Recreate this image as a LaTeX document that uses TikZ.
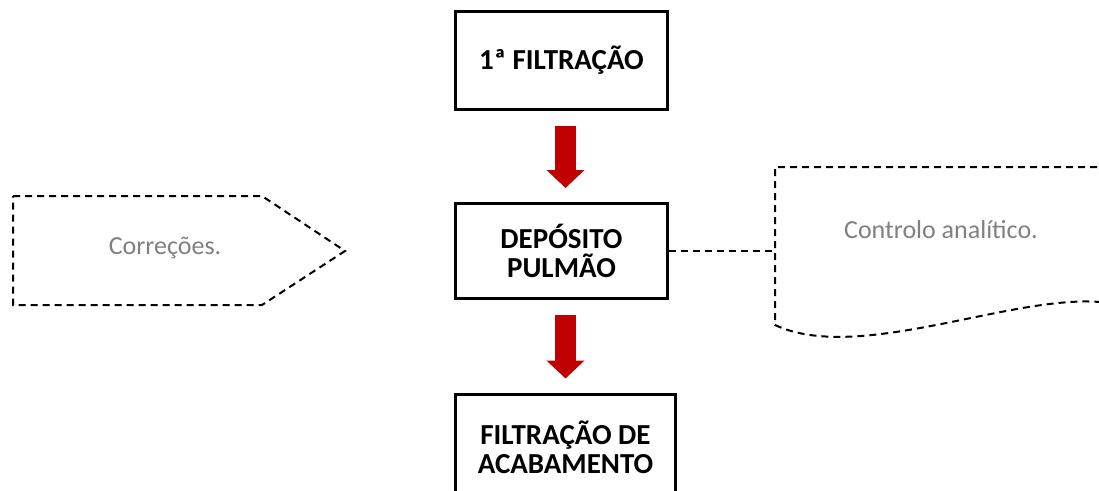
\documentclass[tikz,border=0pt]{standalone}
\usepackage{fontspec}
\setmainfont{Carlito}
\usepackage{tikz}
\usetikzlibrary{arrows.meta}
\definecolor{arrowred}{RGB}{192,0,0}
\definecolor{notegray}{RGB}{128,128,128}

\begin{document}
\begin{tikzpicture}[x=1pt,y=-1pt,
    stepbox/.style={draw,line width=3pt,align=center,inner sep=0pt,
        font=\fontsize{29}{29}\selectfont\bfseries},
    note/.style={align=center,text=notegray,font=\fontsize{26}{30}\selectfont},
    dashline/.style={draw=black,line width=2pt,dash pattern=on 7pt off 5pt},
    flow/.style={draw=arrowred,line width=21pt,-{Triangle[width=37pt,length=18pt,fill=arrowred]},
        shorten <=15pt,shorten >=14pt}]
\useasboundingbox (0,0) rectangle (1099,490);
%\tikzstyle{stepbox}=[draw,thick,minimum width=6cm]
\begin{scope}
    \node[stepbox,minimum width=212pt,minimum height=98pt] (filt) at (561.5,60.5) {1ª FILTRAÇÃO};
    \node[stepbox,minimum width=212pt,minimum height=95pt] (dep) at (561.5,251) {DEPÓSITO\\PULMÃO};
    \node[stepbox,minimum width=220pt,minimum height=106pt] (acab) at (565.5,447) {FILTRAÇÃO DE\\ACABAMENTO};
    \node[note] (corr) at (165,248) {Correções.};
    \node[note] (ctrl) at (941,230) {Controlo analítico.};
    \coordinate (ctrlin) at (775,253);
\end{scope}

% side shapes
\draw[dashline] (13,196) -- (262,196) -- (345,251) -- (262,305) -- (13,305) -- cycle;
\draw[dashline] (1109,167) -- (775,167) -- (775,325)
    .. controls (860,365) and (1020,290) .. (1109,303);

\begin{scope}
    \path ([xshift=4pt]filt.south) edge[flow] ([xshift=4pt]dep.north);
    \path ([xshift=4pt]dep.south) edge[flow] (acab.north);
    \path (dep.east) edge[dashline] (dep.east -| ctrlin);
\end{scope}
\end{tikzpicture}
\end{document}
